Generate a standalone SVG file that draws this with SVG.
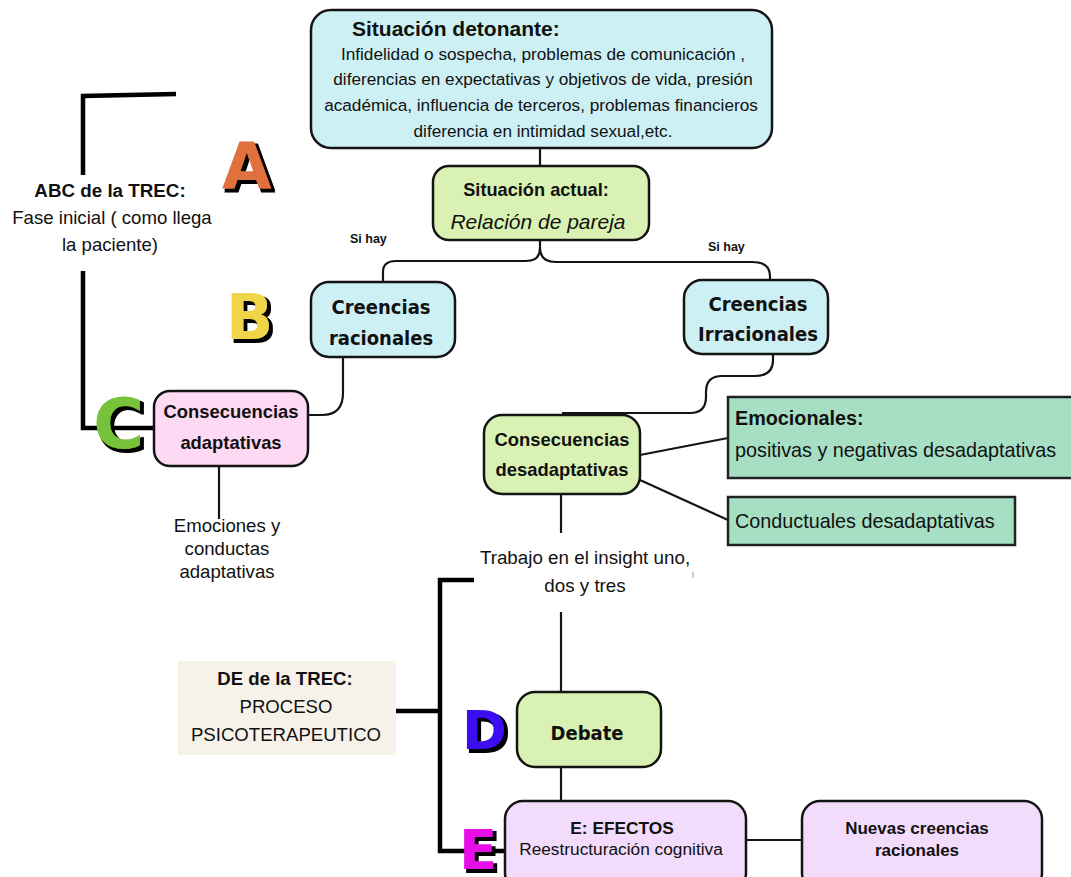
<svg xmlns="http://www.w3.org/2000/svg" width="1071" height="877" viewBox="0 0 1071 877">
<defs>
<filter id="block" x="-20%" y="-20%" width="150%" height="150%">
<feMorphology in="SourceAlpha" operator="dilate" radius="1" result="d"/>
<feOffset in="d" dx="3" dy="3" result="o"/>
<feFlood flood-color="#000"/>
<feComposite in2="o" operator="in" result="s"/>
<feMerge><feMergeNode in="s"/><feMergeNode in="SourceGraphic"/></feMerge>
</filter>
</defs>
<style>
text{font-family:"Liberation Sans",Arial,sans-serif;fill:#111}
.box{stroke:#141414;stroke-width:2.5}
.cyan{fill:#cdf0f4}.lime{fill:#d9f2b4}.pink{fill:#fdd9f3}.lav{fill:#f2dbfb}.mint{fill:#a7dfc5;stroke:#222;stroke-width:2.5}
.c{text-anchor:middle}
.b{font-weight:bold}
.hand{font-family:"DejaVu Sans Condensed","DejaVu Sans",sans-serif;font-weight:bold;text-anchor:middle;font-size:20px}
.ln{fill:none;stroke:#141414;stroke-width:2.2}
.thick{fill:none;stroke:#000;stroke-width:4.5}
.let{font-family:"DejaVu Sans",sans-serif;font-weight:bold;filter:url(#block)}
.la{fill:#e0703d}.lb{fill:#f0d54a}.lc{fill:#77c23a}.ld{fill:#3b0ff0}.le{fill:#e60fe6}
</style>
<g id="connectors">
<line class="ln" x1="540" y1="148" x2="540" y2="167"/>
<path class="ln" d="M540 240 V248 Q540 261 526 261 H396 Q383 261 383 272 V282"/>
<path class="ln" d="M540 248 Q540 262 556 262 H752 Q770 262 770 276 V281"/>
<path class="ln" d="M343 357 V393 Q343 415 322 415 H308"/>
<path class="ln" d="M773 354 V360 Q773 376 755 376 H722 Q706 376 706 392 V397 Q706 413 690 413 H562"/>
<line class="ln" x1="640" y1="455" x2="728" y2="438"/>
<line class="ln" x1="640" y1="480" x2="728" y2="520"/>
<line class="ln" x1="561" y1="494" x2="561" y2="533"/>
<line class="ln" x1="561" y1="612" x2="561" y2="692"/>
<line class="ln" x1="561" y1="767" x2="561" y2="802"/>
<line class="ln" x1="746" y1="840" x2="802" y2="840"/>
<line class="ln" x1="219" y1="466" x2="219" y2="519"/>
<path class="thick" d="M176 94 L83 96 V175"/>
<path class="thick" d="M83 271 V428 H155"/>
<path class="thick" d="M474 580 H440 V851 H505"/>
<line class="thick" x1="396" y1="711" x2="440" y2="711"/>
<line x1="693" y1="572" x2="693" y2="578" stroke="#bbb" stroke-width="1.5"/>
</g>
<g id="letter-a"><text class="let la" x="222" y="189" font-size="64">A</text></g>
<g id="letter-b"><text class="let lb" x="226" y="339" font-size="62">B</text></g>
<g id="letter-c"><text class="let lc" x="93" y="448" font-size="70">C</text></g>
<g id="letter-d"><text class="let ld" x="462" y="749" font-size="54">D</text></g>
<g id="letter-e"><text class="let le" x="459" y="869" font-size="56">E</text></g>
<g id="detonante">
<rect class="box cyan" x="311" y="10" width="461" height="138" rx="20"/>
<text class="b" x="352" y="36" font-size="21">Situación detonante:</text>
<text class="c" x="543" y="60" font-size="17.2">Infidelidad o sospecha, problemas de comunicación ,</text>
<text class="c" x="543" y="85" font-size="17.2">diferencias en expectativas y objetivos de vida, presión</text>
<text class="c" x="541" y="111" font-size="17.2">académica, influencia de terceros, problemas financieros</text>
<text class="c" x="543" y="137" font-size="17.2">diferencia en intimidad sexual,etc.</text>
</g>
<g id="actual">
<rect class="box lime" x="433" y="166" width="216" height="74" rx="16"/>
<text class="c b" x="536" y="196" font-size="18.2">Situación actual:</text>
<text class="c" x="538" y="229" font-size="21" font-style="italic">Relación de pareja</text>
</g>
<g id="sihay">
<text class="b" x="350" y="243" font-size="12.5">Si hay</text>
<text class="b" x="708" y="251" font-size="12.5">Si hay</text>
</g>
<g id="racionales">
<rect class="box cyan" x="311" y="282" width="144" height="75" rx="18"/>
<text class="hand" x="381" y="314">Creencias</text>
<text class="hand" x="381" y="345">racionales</text>
</g>
<g id="irracionales">
<rect class="box cyan" x="684" y="280" width="144" height="74" rx="18"/>
<text class="hand" x="758" y="311">Creencias</text>
<text class="hand" x="758" y="341">Irracionales</text>
</g>
<g id="abc">
<text class="c b" x="110" y="197" font-size="18.8">ABC de la TREC:</text>
<text class="c" x="112" y="224" font-size="18.6">Fase inicial ( como llega</text>
<text class="c" x="110" y="251" font-size="18.6">la paciente)</text>
</g>
<g id="adaptativas">
<rect class="box pink" x="154" y="391" width="154" height="75" rx="16"/>
<text class="c b" x="231" y="418" font-size="18.4">Consecuencias</text>
<text class="c b" x="231" y="449" font-size="18.4">adaptativas</text>
</g>
<g id="emociones-conductas">
<text class="c" x="227" y="532" font-size="18.6">Emociones y</text>
<text class="c" x="227" y="555" font-size="18.6">conductas</text>
<text class="c" x="227" y="578" font-size="18.6">adaptativas</text>
</g>
<g id="desadaptativas">
<rect class="box lime" x="484" y="415" width="156" height="79" rx="18"/>
<text class="c b" x="562" y="446" font-size="18.4">Consecuencias</text>
<text class="c b" x="562" y="476" font-size="18.4">desadaptativas</text>
</g>
<g id="emocionales">
<rect class="mint" x="728" y="397" width="350" height="81"/>
<text class="b" x="735" y="425" font-size="19.8">Emocionales:</text>
<text x="735" y="457" font-size="19.8">positivas y negativas desadaptativas</text>
</g>
<g id="conductuales">
<rect class="mint" x="728" y="497" width="287" height="48"/>
<text x="735" y="528" font-size="19.8">Conductuales desadaptativas</text>
</g>
<g id="insight">
<text class="c" x="585" y="564" font-size="18.8">Trabajo en el insight uno,</text>
<text class="c" x="585" y="592" font-size="18.8">dos y tres</text>
</g>
<g id="de-trec">
<rect x="178" y="661" width="218" height="94" fill="#f6f2ea"/>
<text class="c b" x="285" y="685" font-size="18.6">DE de la TREC:</text>
<text class="c" x="286" y="713" font-size="18.6">PROCESO</text>
<text class="c" x="286" y="741" font-size="18.6">PSICOTERAPEUTICO</text>
</g>
<g id="debate">
<rect class="box lime" x="517" y="692" width="144" height="75" rx="18"/>
<text class="hand" x="587" y="740" font-size="21.5">Debate</text>
</g>
<g id="efectos">
<rect class="box lav" x="505" y="801" width="241" height="90" rx="18"/>
<text class="c b" x="622" y="834" font-size="17.3">E: EFECTOS</text>
<text class="c" x="621" y="855" font-size="17.3">Reestructuración cognitiva</text>
</g>
<g id="nuevas">
<rect class="box lav" x="802" y="801" width="240" height="90" rx="18"/>
<text class="c b" x="917" y="834" font-size="17">Nuevas creencias</text>
<text class="c b" x="917" y="856" font-size="17">racionales</text>
</g>
</svg>
